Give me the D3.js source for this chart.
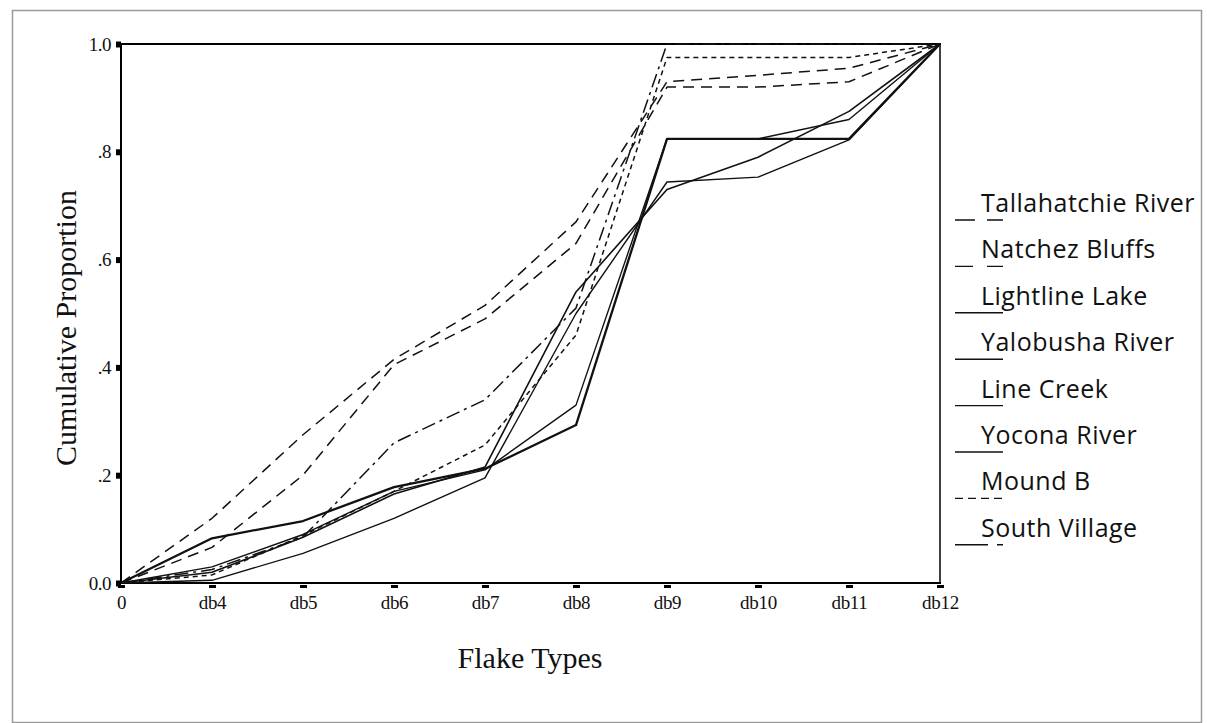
<!DOCTYPE html>
<html>
<head>
<meta charset="utf-8">
<script src="https://cdn.jsdelivr.net/npm/d3@7"></script>
<style>
  body { margin: 0; background: #fff; }
  svg { display: block; }
  .tick text { font-family: "Liberation Serif", "Times New Roman", serif; }
</style>
</head>
<body>
<div id="chart"></div>
<script>
// --- Data ---
const categories = ["0", "db4", "db5", "db6", "db7", "db8", "db9", "db10", "db11", "db12"];
const yTicks = [0, 0.2, 0.4, 0.6, 0.8, 1.0];
const yTickLabels = ["0.0", ".2", ".4", ".6", ".8", "1.0"];

const seriesNames = ["Tallahatchie River", "Natchez Bluffs", "Lightline Lake", "Yalobusha River",
                     "Line Creek", "Yocona River", "Mound B", "South Village"];

const tallahatchieRiver = [0, 0.12, 0.275, 0.415, 0.515, 0.67, 0.93, 0.942, 0.955, 1];
const natchezBluffs     = [0, 0.066, 0.20, 0.405, 0.49, 0.63, 0.92, 0.92, 0.93, 1];
const lightlineLake     = [0, 0.03, 0.09, 0.17, 0.21, 0.33, 0.824, 0.824, 0.86, 1];
const yalobushaRiver    = [0, 0.083, 0.115, 0.178, 0.212, 0.293, 0.824, 0.824, 0.824, 1];
const lineCreek         = [0, 0.005, 0.055, 0.12, 0.195, 0.50, 0.744, 0.753, 0.822, 1];
const yoconaRiver       = [0, 0.02, 0.085, 0.165, 0.215, 0.54, 0.73, 0.79, 0.875, 1];
const moundB            = [0, 0.015, 0.088, 0.17, 0.256, 0.46, 0.975, 0.975, 0.975, 1];
const southVillage      = [0, 0.025, 0.085, 0.26, 0.34, 0.51, 1, 1, 1, 1];

const seriesValues = [tallahatchieRiver, natchezBluffs, lightlineLake, yalobushaRiver,
                      lineCreek, yoconaRiver, moundB, southVillage];

// line styles: plot dash, legend dash, width
const styles = [
  { dash: "11,7", legendDash: "20,12", width: 1.5 },
  { dash: "11,7", legendDash: "18,14", width: 1.5 },
  { dash: null, legendDash: null, width: 1.4 },
  { dash: null, legendDash: null, width: 2.3 },
  { dash: null, legendDash: null, width: 1.4 },
  { dash: null, legendDash: null, width: 1.6 },
  { dash: "5,4", legendDash: "8,5", width: 1.5 },
  { dash: "14,5,3,5", legendDash: "33,9,6,9", width: 1.5 }
];

const W = 1207, H = 723;
const svg = d3.select("#chart").append("svg")
  .attr("width", W)
  .attr("height", H);

// outer frame
svg.append("rect")
  .attr("x", 12.5).attr("y", 10.5)
  .attr("width", 1189).attr("height", 712)
  .attr("fill", "#fff")
  .attr("stroke", "#9a9a9a")
  .attr("stroke-width", 1.5);

const x = d3.scalePoint().domain(categories).range([121, 940]);
const y = d3.scaleLinear().domain([0, 1]).range([583, 44]);

// --- Axes ---
const yAxis = svg.append("g")
  .attr("transform", "translate(121,0)")
  .call(d3.axisLeft(y).tickValues(yTicks).tickSize(5)
    .tickFormat((d, i) => yTickLabels[i]));
yAxis.select(".domain").remove();
yAxis.selectAll(".tick line").attr("stroke", "#000").attr("stroke-width", 6);
yAxis.selectAll(".tick text")
  .attr("x", -10)
  .attr("font-size", 19)
  .attr("letter-spacing", -0.5)
  .attr("fill", "#111");

const xAxis = svg.append("g")
  .attr("transform", "translate(0,583)")
  .call(d3.axisBottom(x).tickSize(5));
xAxis.select(".domain").remove();
xAxis.selectAll(".tick line")
  .attr("y1", 2).attr("y2", 5)
  .attr("stroke", "#000").attr("stroke-width", 7);
xAxis.selectAll(".tick text")
  .attr("y", 13)
  .attr("font-size", 19)
  .attr("letter-spacing", -0.3)
  .attr("fill", "#111");

// plot box
svg.append("line").attr("x1", 121).attr("x2", 121).attr("y1", 43).attr("y2", 584)
  .attr("stroke", "#000").attr("stroke-width", 2);
svg.append("line").attr("x1", 120).attr("x2", 941).attr("y1", 583).attr("y2", 583)
  .attr("stroke", "#000").attr("stroke-width", 2);
svg.append("line").attr("x1", 120).attr("x2", 941).attr("y1", 44).attr("y2", 44)
  .attr("stroke", "#000").attr("stroke-width", 2);
svg.append("line").attr("x1", 940).attr("x2", 940).attr("y1", 43).attr("y2", 584)
  .attr("stroke", "#000").attr("stroke-width", 1.5);

// --- Series lines ---
const line = d3.line()
  .x((d, i) => x(categories[i]))
  .y(d => y(d));

svg.append("g")
  .selectAll("path")
  .data(seriesValues)
  .enter().append("path")
  .attr("d", line)
  .attr("fill", "none")
  .attr("stroke", "#111")
  .attr("stroke-width", (d, i) => styles[i].width)
  .attr("stroke-dasharray", (d, i) => styles[i].dash)
  .attr("stroke-linejoin", "round");

// --- Axis titles ---
svg.append("text")
  .attr("x", 530).attr("y", 668)
  .attr("text-anchor", "middle")
  .attr("font-family", "'Liberation Serif', 'Times New Roman', serif")
  .attr("font-size", 30)
  .attr("fill", "#111")
  .text("Flake Types");

svg.append("text")
  .attr("transform", "translate(76,328) rotate(-90)")
  .attr("text-anchor", "middle")
  .attr("font-family", "'Liberation Serif', 'Times New Roman', serif")
  .attr("font-size", 30)
  .attr("fill", "#111")
  .text("Cumulative Proportion");

// --- Legend ---
const legend = svg.append("g");
const items = legend.selectAll("g")
  .data(seriesNames)
  .enter().append("g")
  .attr("transform", (d, i) => `translate(0,${212 + i * 46.4})`);

items.append("text")
  .attr("x", 981).attr("y", 0)
  .attr("font-family", "'Open Sans', 'Noto Sans', sans-serif")
  .attr("font-size", 25)
  .attr("letter-spacing", 0.5)
  .attr("fill", "#111")
  .text(d => d);

items.append("line")
  .attr("x1", 955).attr("x2", 1003)
  .attr("y1", 8).attr("y2", 8)
  .attr("stroke", "#111")
  .attr("stroke-width", 1.4)
  .attr("stroke-dasharray", (d, i) => styles[i].legendDash);
</script>
</body>
</html>
